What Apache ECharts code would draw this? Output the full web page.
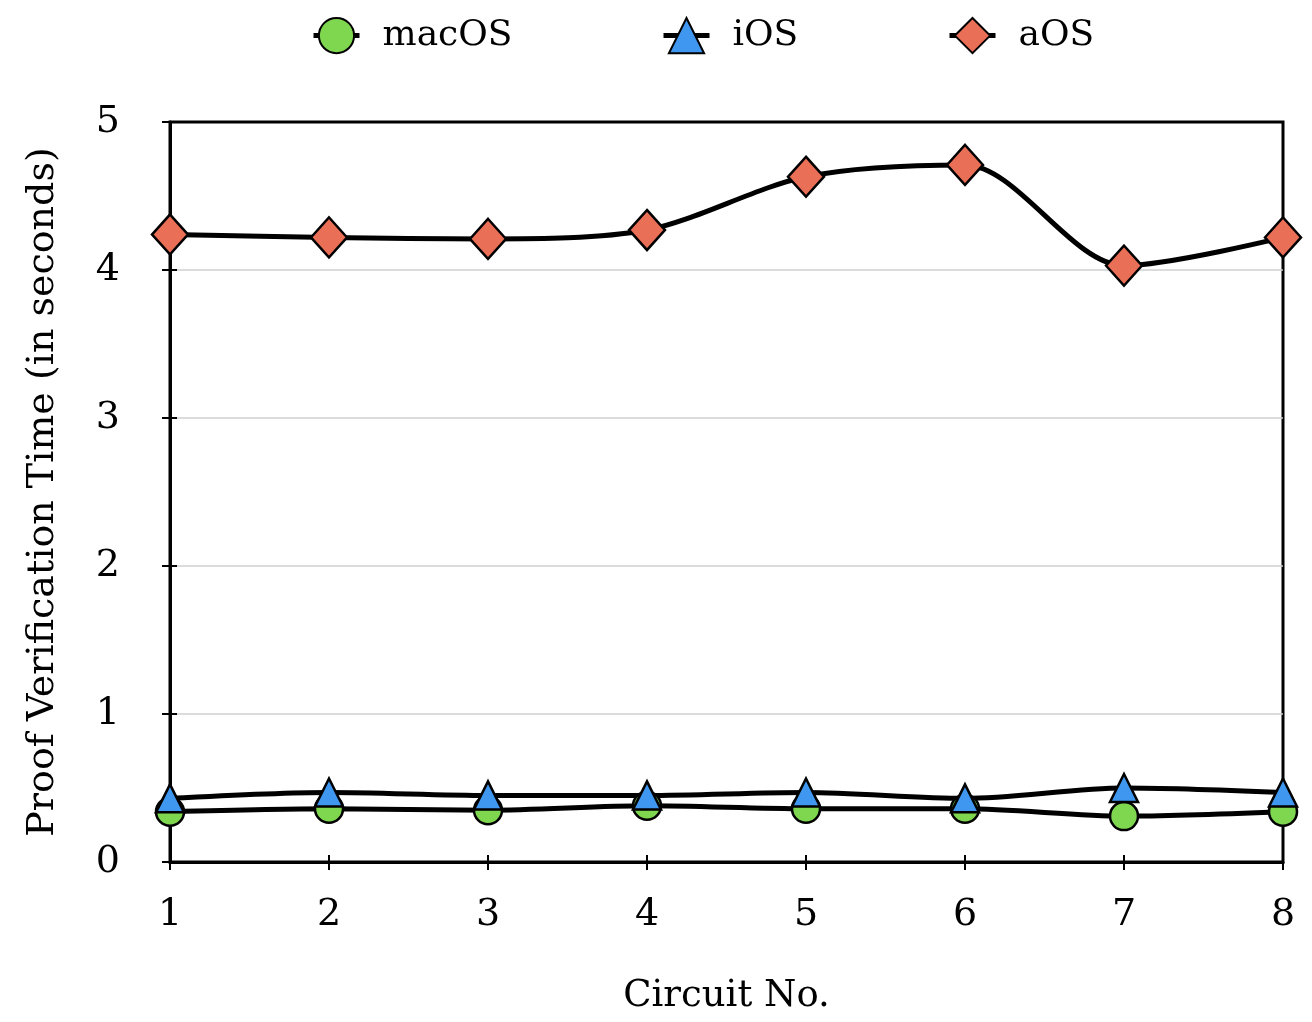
<!DOCTYPE html>
<html>
<head>
    <meta charset="utf-8" />
    <script src="https://cdn.jsdelivr.net/npm/echarts@6/dist/echarts.min.js"></script>
</head>
<body style="margin:0">
    <div id="main" style="width:1312px;height:1022px;"></div>
    <script type="text/javascript">
        // data
        var circuits = ['1', '2', '3', '4', '5', '6', '7', '8'];
        var macOS = [0.34, 0.36, 0.35, 0.38, 0.36, 0.36, 0.31, 0.34];
        var iOS = [0.43, 0.47, 0.45, 0.45, 0.47, 0.43, 0.50, 0.47];
        var aOS = [4.24, 4.22, 4.21, 4.27, 4.63, 4.71, 4.03, 4.22];
        var yTicks = [0, 1, 2, 3, 4, 5];

        var font = 'DejaVu Serif';
        var myChart = echarts.init(document.getElementById('main'));

        function legendAt(name, left) {
            return {
                data: [name], left: left, top: 12,
                itemWidth: 46, itemHeight: 44,
                lineStyle: { width: 5 },
                textStyle: { fontFamily: font, fontSize: 36, color: '#000', padding: [0, 0, 0, 18] }
            };
        }

        var option = {
            animation: false,
            legend: [legendAt('macOS', 306), legendAt('iOS', 656), legendAt('aOS', 942)],
            grid: {
                left: 170, right: 29, top: 122, bottom: 160,
                show: true, borderColor: '#000', borderWidth: 3
            },
            xAxis: [{
                type: 'category', data: circuits, boundaryGap: false,
                name: 'Circuit No.', nameLocation: 'middle', nameGap: 116,
                nameTextStyle: { fontFamily: font, fontSize: 37, color: '#000' },
                axisLine: { lineStyle: { color: '#000', width: 3 } },
                axisTick: { length: 8, lineStyle: { color: '#000', width: 2 }, alignWithLabel: true },
                axisLabel: { fontFamily: font, fontSize: 38, color: '#000', margin: 34 },
                splitLine: { show: false }
            }, {
                type: 'category', data: circuits, boundaryGap: false, position: 'bottom',
                axisLine: { show: false },
                axisTick: { inside: true, length: 7, lineStyle: { color: '#000', width: 2 } },
                axisLabel: { show: false }, splitLine: { show: false }
            }],
            yAxis: [{
                type: 'value', min: 0, max: 5, interval: 1,
                name: 'Proof Verification Time (in seconds)', nameLocation: 'middle', nameGap: 108,
                nameTextStyle: { fontFamily: font, fontSize: 38, color: '#000' },
                axisLine: { show: true, lineStyle: { color: '#000', width: 3 } },
                axisTick: { show: true, length: 8, lineStyle: { color: '#000', width: 2 } },
                axisLabel: {
                    fontFamily: font, fontSize: 38, color: '#000', margin: 50,
                    formatter: function (v) { return yTicks.indexOf(v) >= 0 ? String(v) : ''; }
                },
                splitLine: { show: true, showMinLine: false, showMaxLine: false, lineStyle: { color: '#cfcfcf', width: 1.5 } }
            }, {
                type: 'value', min: 0, max: 5, interval: 1, position: 'left',
                axisLine: { show: false },
                axisTick: { show: true, inside: true, length: 7, lineStyle: { color: '#000', width: 2 } },
                axisLabel: { show: false }, splitLine: { show: false }
            }],
            series: [{
                name: 'macOS', type: 'line', data: macOS, smooth: 0.3,
                symbol: 'circle', symbolSize: 28,
                lineStyle: { color: '#000', width: 5 },
                itemStyle: { color: '#7fd64f', borderColor: '#000', borderWidth: 2.5 }
            }, {
                name: 'iOS', type: 'line', data: iOS, smooth: 0.3,
                symbol: 'triangle', symbolSize: [28, 28],
                lineStyle: { color: '#000', width: 5 },
                itemStyle: { color: '#3f97f0', borderColor: '#000', borderWidth: 2.5 }
            }, {
                name: 'aOS', type: 'line', data: aOS, smooth: 0.3,
                symbol: 'diamond', symbolSize: [36, 40],
                lineStyle: { color: '#000', width: 5 },
                itemStyle: { color: '#ea6f57', borderColor: '#000', borderWidth: 2.5 }
            }]
        };

        myChart.setOption(option);
    </script>
</body>
</html>
